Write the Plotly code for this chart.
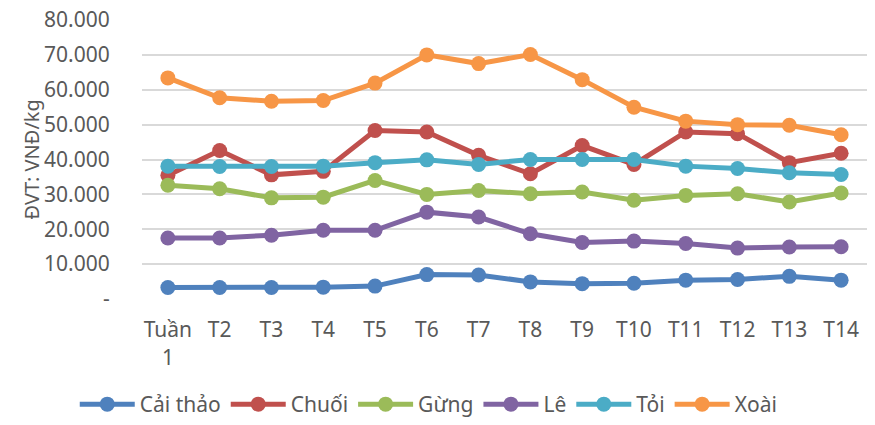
import plotly.graph_objects as go

weeks = ["Tuần<br>1", "T2", "T3", "T4", "T5", "T6", "T7", "T8", "T9", "T10", "T11", "T12", "T13", "T14"]

cai_thao = [3300, 3300, 3300, 3400, 3700, 7000, 6900, 4900, 4400, 4500, 5400, 5600, 6500, 5400]
chuoi = [35500, 42600, 35600, 36600, 48300, 47900, 41200, 35900, 44000, 38600, 47900, 47400, 39100, 41800]
gung = [32600, 31600, 29000, 29200, 34000, 30000, 31100, 30200, 30700, 28300, 29700, 30200, 27800, 30400]
le = [17500, 17500, 18300, 19700, 19700, 24900, 23500, 18700, 16200, 16600, 15900, 14600, 14900, 15000]
toi = [38100, 38000, 38000, 38100, 39100, 39900, 38600, 40000, 40000, 40000, 38100, 37400, 36200, 35700]
xoai = [63400, 57700, 56700, 56900, 61900, 70000, 67500, 70100, 62900, 55000, 51000, 50000, 49800, 47100]

series_names = ["Cải thảo", "Chuối", "Gừng", "Lê", "Tỏi", "Xoài"]
series_values = [cai_thao, chuoi, gung, le, toi, xoai]
colors = ["#4F81BD", "#C0504D", "#9BBB59", "#8064A2", "#4BACC6", "#F79646"]

y_ticks = [0, 10000, 20000, 30000, 40000, 50000, 60000, 70000, 80000]
y_ticktext = ["-", "10.000", "20.000", "30.000", "40.000", "50.000", "60.000", "70.000", "80.000"]

font_family = "Noto Sans, Open Sans, sans-serif"

fig = go.Figure()
for name, vals, col in zip(series_names, series_values, colors):
    fig.add_trace(go.Scatter(
        x=list(range(len(weeks))), y=vals, name=name, mode="lines+markers",
        line=dict(color=col, width=5),
        marker=dict(color=col, size=15),
    ))

fig.update_layout(
    width=875, height=425,
    margin=dict(l=142, r=8, t=20, b=126),
    paper_bgcolor="white", plot_bgcolor="white",
    font=dict(family=font_family, size=21, color="#595959"),
    showlegend=True,
    legend=dict(orientation="h", xref="container", yref="container",
                x=0.49, xanchor="center", y=-0.01, yanchor="bottom",
                font=dict(size=21, color="#595959"), itemwidth=55,
                traceorder="normal"),
    xaxis=dict(
        tickmode="array", tickvals=list(range(len(weeks))), ticktext=weeks,
        range=[-0.5, len(weeks) - 0.5], showgrid=False, zeroline=False,
        showline=False, ticks="outside", ticklen=12, tickcolor="rgba(0,0,0,0)",
        tickfont=dict(size=21, color="#595959"), automargin=False,
    ),
    yaxis=dict(
        range=[0, 80000], tickmode="array", tickvals=y_ticks, ticktext=y_ticktext,
        showgrid=True, gridcolor="#D9D9D9", gridwidth=1.5, zeroline=False,
        showline=False, ticks="outside", ticklen=27, tickcolor="rgba(0,0,0,0)",
        tickfont=dict(size=21, color="#595959"), automargin=False,
    ),
    annotations=[dict(
        text="ĐVT: VNĐ/kg", textangle=-90, xref="paper", yref="paper",
        x=(31 - 142) / 725, y=0.5, xanchor="center", yanchor="middle",
        showarrow=False, font=dict(size=20, color="#595959"),
    )],
)

fig.write_html(
    "out.html",
    config={"displayModeBar": False},
    post_script="document.body.style.margin='0px';document.body.style.overflow='hidden';",
)
